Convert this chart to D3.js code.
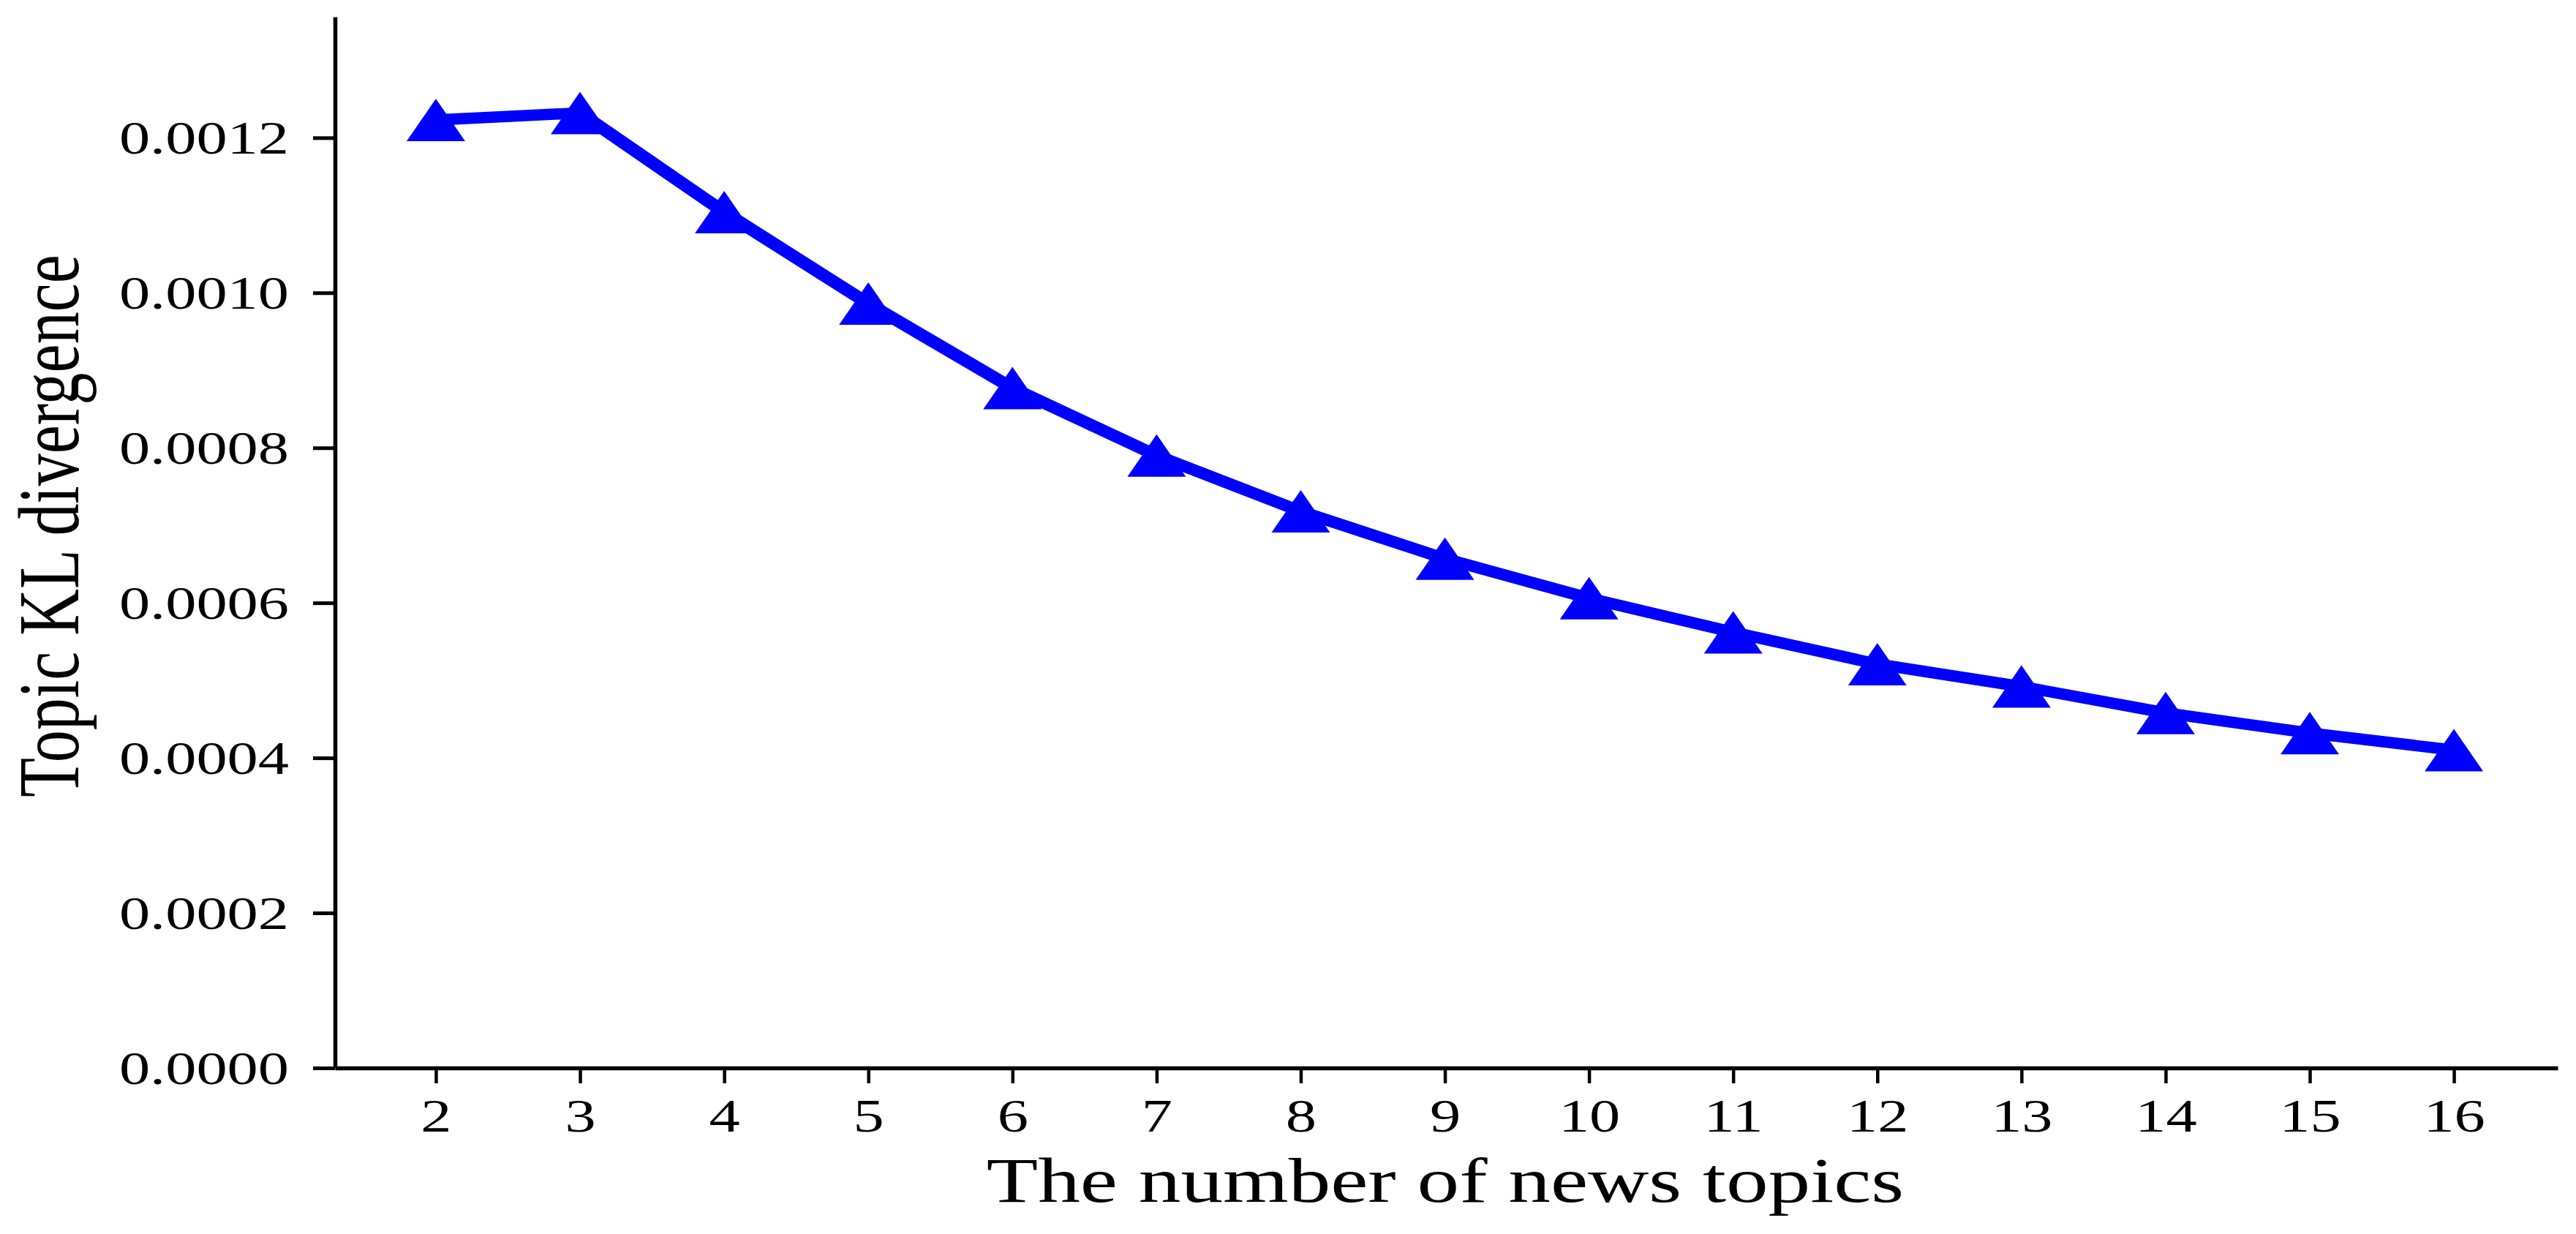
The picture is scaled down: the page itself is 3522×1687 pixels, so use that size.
<!DOCTYPE html>
<html>
<head>
<meta charset="utf-8">
<script src="https://cdn.jsdelivr.net/npm/d3@7"></script>
<style>
  html, body { margin: 0; padding: 0; background: #ffffff; }
  svg { display: block; }
</style>
</head>
<body>
<svg id="chart" width="3522" height="1687"></svg>
<script>
// ---- data ----
const topicCounts = [2, 3, 4, 5, 6, 7, 8, 9, 10, 11, 12, 13, 14, 15, 16];
const klDivergence = [0.001223, 0.001232, 0.001104, 0.000986, 0.000877, 0.000790, 0.000718,
                      0.000657, 0.000606, 0.000562, 0.000521, 0.000492, 0.000458, 0.000432, 0.000410];
const yTickValues = [0, 0.0002, 0.0004, 0.0006, 0.0008, 0.0010, 0.0012];
const xTickValues = [2, 3, 4, 5, 6, 7, 8, 9, 10, 11, 12, 13, 14, 15, 16];
const xTitle = "The number of news topics";
const yTitle = "Topic KL divergence";

(function () {
// ---- layout ----
const W = 3522, H = 1687;
const plotLeft = 458, plotBottom = 1460, plotTop = 23, plotRight = 3497;
const stretch = 1.34;             // horizontal stretch of the original figure
const font = "'Liberation Serif', 'Times New Roman', serif";

const svg = d3.select("#chart");
svg.append("rect").attr("width", W).attr("height", H).attr("fill", "#fff");

const x = d3.scaleLinear().domain([1.3, 16.72]).range([plotLeft, plotRight]);
const y = d3.scaleLinear().domain([0, 0.001356]).range([plotBottom, plotTop]);

// ---- axes ----
const yAxis = d3.axisLeft(y).tickValues(yTickValues).tickFormat(d3.format(".4f"))
  .tickSize(30).tickSizeOuter(0);
const gy = svg.append("g").attr("transform", `translate(${plotLeft},0)`).call(yAxis);
gy.select(".domain").attr("stroke", "#000").attr("stroke-width", 5.5);
gy.selectAll(".tick line").attr("stroke", "#000").attr("stroke-width", 5);
gy.selectAll(".tick text")
  .attr("fill", "#000")
  .attr("font-family", font)
  .attr("font-size", 63)
  .attr("x", -63 / stretch)
  .attr("dy", "0.34em")
  .attr("transform", `scale(${stretch},1)`);

const xAxis = d3.axisBottom(x).tickValues(xTickValues).tickFormat(d3.format("d"))
  .tickSize(21).tickSizeOuter(0);
const gx = svg.append("g").attr("transform", `translate(0,${plotBottom})`).call(xAxis);
gx.select(".domain").attr("stroke", "#000").attr("stroke-width", 5.5);
gx.selectAll(".tick line").attr("stroke", "#000").attr("stroke-width", 4.5);
gx.selectAll(".tick text")
  .attr("fill", "#000")
  .attr("font-family", font)
  .attr("font-size", 63)
  .attr("y", 87)
  .attr("dy", 0)
  .attr("transform", `scale(${stretch},1)`);

// ---- axis titles ----
svg.append("text")
  .attr("transform", `translate(1976,1643) scale(${stretch},1)`)
  .attr("text-anchor", "middle")
  .attr("font-family", font)
  .attr("font-size", 86)
  .attr("fill", "#000")
  .text(xTitle);

svg.append("text")
  .attr("transform", `translate(107,719) scale(${stretch},1) rotate(-90)`)
  .attr("text-anchor", "middle")
  .attr("font-family", font)
  .attr("font-size", 88)
  .attr("fill", "#000")
  .text(yTitle);

// ---- line (drawn in an x-stretched frame, like the original figure) ----
const data = topicCounts.map((k, i) => ({ k, v: klDivergence[i] }));
const line = d3.line().x(d => x(d.k) / stretch).y(d => y(d.v));
svg.append("g")
  .attr("transform", `scale(${stretch},1)`)
  .append("path")
  .datum(data)
  .attr("d", line)
  .attr("fill", "none")
  .attr("stroke", "#0000ff")
  .attr("stroke-width", 15.5)
  .attr("stroke-linejoin", "miter");

// ---- triangle markers (bbox-centred, stretched like the original) ----
const triW = 80, triH = 58;
const stretchedTriangle = {
  draw(ctx) {
    ctx.moveTo(0, -triH / 2);
    ctx.lineTo(triW / 2, triH / 2);
    ctx.lineTo(-triW / 2, triH / 2);
    ctx.closePath();
  }
};
svg.append("g").selectAll("path")
  .data(data)
  .join("path")
  .attr("transform", d => `translate(${x(d.k)},${y(d.v)})`)
  .attr("d", d3.symbol().type(stretchedTriangle)())
  .attr("fill", "#0000ff");
})();
</script>
</body>
</html>
